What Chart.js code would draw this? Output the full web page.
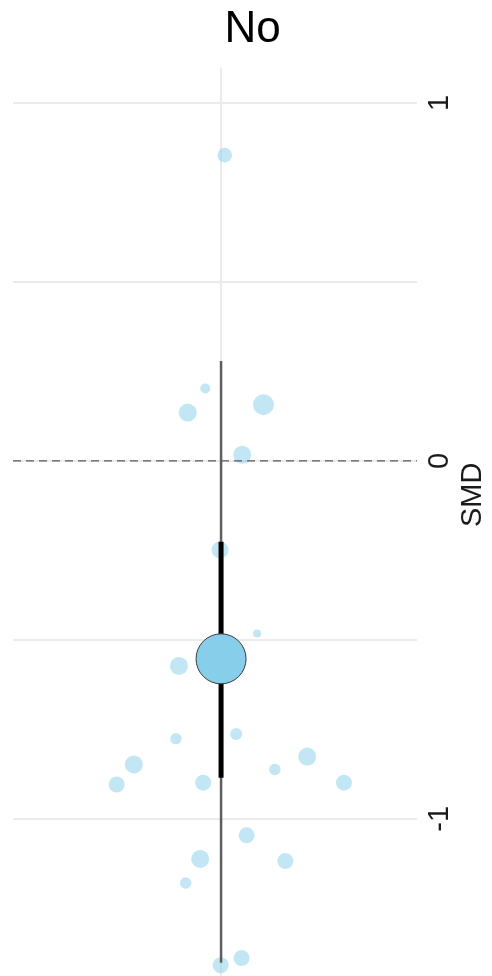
<!DOCTYPE html>
<html>
<head>
<meta charset="utf-8">
<title>No</title>
<script src="https://cdn.jsdelivr.net/npm/chart.js@4.4.1/dist/chart.umd.min.js"></script>
<style>
  html, body { margin: 0; padding: 0; background: #ffffff; }
  #wrap { width: 492px; height: 976px; position: relative; }
</style>
</head>
<body>
<div id="wrap"><canvas id="c" width="492" height="976"></canvas></div>
<script>
// Individual study effects (standardised mean difference) with jittered spread
const studySpread = [1.011, 0.953, 0.901, 1.126, 1.063, 0.997, 1.107, 0.875, 0.866, 1.045, 0.741,
                     0.690, 0.947, 1.160, 1.256, 1.365, 1.076, 0.938, 1.191, 0.895, 0.999, 1.061];
const studySMD    = [0.854, 0.202, 0.135, 0.157, 0.017, -0.249, -0.482, -0.573, -0.776, -0.763, -0.848,
                     -0.904, -0.899, -0.862, -0.826, -0.899, -1.046, -1.112, -1.118, -1.179, -1.409, -1.389];
const studyWeight = [8.5, 4.0, 13.0, 17.6, 13.0, 11.6, 2.6, 13.0, 5.2, 5.8, 13.0,
                     10.2, 10.2, 5.2, 13.0, 10.2, 10.2, 13.0, 10.2, 5.2, 10.2, 10.2];

// Pooled estimate, confidence interval and prediction interval
const pooledSMD = -0.553;
const pooledWeight = 100;
const confInterval = [-0.226, -0.885];
const predInterval = [0.279, -1.402];

// SMD axis ticks
const smdTicks  = [-1, -0.5, 0, 0.5, 1];
const smdLabels = ['-1', '', '0', '', '1'];

const X_MIN = 0.382, X_MAX = 1.582;
const Y_MIN = -1.439, Y_MAX = 1.098;
const AXIS_FONT = 'Liberation Sans, Arial, sans-serif';

const radiusFor = w => 2.5 * Math.sqrt(w);

const studyPoints = studySpread.map((x, i) => ({ x: x, y: studySMD[i], w: studyWeight[i] }));

// Rotated "SMD" axis title, read bottom to top beside the value axis
const smdTitle = {
  id: 'smdTitle',
  afterDraw(chart) {
    const s = chart.scales.y;
    const ctx = chart.ctx;
    ctx.save();
    ctx.translate(472.5, s.getPixelForValue(-0.095));
    ctx.rotate(-Math.PI / 2);
    ctx.font = '29px ' + AXIS_FONT;
    ctx.fillStyle = '#1a1a1a';
    ctx.textAlign = 'center';
    ctx.textBaseline = 'middle';
    ctx.fillText('SMD', 0, 0);
    ctx.restore();
  }
};

const noEdgePadding = s => {
  s.paddingTop = 0; s.paddingBottom = 0; s.paddingLeft = 0; s.paddingRight = 0;
};

new Chart(document.getElementById('c'), {
  type: 'scatter',
  data: {
    datasets: [
      {
        label: 'Pooled',
        data: [{ x: 1, y: pooledSMD, w: pooledWeight }],
        backgroundColor: '#87CEEB',
        borderColor: '#3a3a3a',
        borderWidth: 1,
        pointRadius: ctx => radiusFor(ctx.raw ? ctx.raw.w : pooledWeight),
        pointHoverRadius: ctx => radiusFor(ctx.raw ? ctx.raw.w : pooledWeight)
      },
      {
        label: 'CI',
        data: [{ x: 1, y: confInterval[0] }, { x: 1, y: confInterval[1] }],
        showLine: true,
        borderColor: '#000000',
        borderWidth: 5,
        pointRadius: 0,
        borderCapStyle: 'butt'
      },
      {
        label: 'PI',
        data: [{ x: 1, y: predInterval[0] }, { x: 1, y: predInterval[1] }],
        showLine: true,
        borderColor: '#5e5e5e',
        borderWidth: 2.5,
        pointRadius: 0,
        borderCapStyle: 'butt'
      },
      {
        label: 'Zero',
        data: [{ x: X_MIN, y: 0 }, { x: X_MAX, y: 0 }],
        showLine: true,
        borderColor: '#5a5a5a',
        borderWidth: 1.4,
        borderDash: [8, 5],
        pointRadius: 0
      },
      {
        label: 'Studies',
        data: studyPoints,
        backgroundColor: 'rgba(135, 206, 235, 0.5)',
        borderWidth: 0,
        pointRadius: ctx => radiusFor(ctx.raw ? ctx.raw.w : 5),
        pointHoverRadius: ctx => radiusFor(ctx.raw ? ctx.raw.w : 5)
      }
    ]
  },
  options: {
    responsive: false,
    animation: false,
    devicePixelRatio: 1,
    clip: false,
    layout: { autoPadding: false, padding: { left: 13, right: 0, top: 0, bottom: 0 } },
    plugins: {
      legend: { display: false },
      tooltip: { enabled: false },
      title: {
        display: true,
        text: 'No',
        color: '#000000',
        font: { family: AXIS_FONT, size: 44, weight: 'normal', lineHeight: 1.2 },
        padding: { top: 3, bottom: 12 }
      }
    },
    scales: {
      x: {
        type: 'linear',
        min: X_MIN,
        max: X_MAX,
        position: 'bottom',
        afterBuildTicks: s => { s.ticks = [{ value: 1 }]; },
        afterFit: s => { s.height = 0; noEdgePadding(s); },
        ticks: { display: false },
        grid: { color: '#ebebeb', lineWidth: 2, drawTicks: false },
        border: { display: false }
      },
      y: {
        type: 'linear',
        min: Y_MIN,
        max: Y_MAX,
        position: 'right',
        afterBuildTicks: s => { s.ticks = smdTicks.map(v => ({ value: v })); },
        afterFit: s => { s.width = 75; noEdgePadding(s); },
        ticks: {
          callback: (v) => smdLabels[smdTicks.indexOf(v)],
          minRotation: 90,
          maxRotation: 90,
          crossAlign: 'center',
          padding: 10,
          color: '#1a1a1a',
          font: { family: AXIS_FONT, size: 29 }
        },
        grid: { color: '#ebebeb', lineWidth: 2, drawTicks: false },
        border: { display: false }
      }
    }
  },
  plugins: [smdTitle]
});
</script>
</body>
</html>
